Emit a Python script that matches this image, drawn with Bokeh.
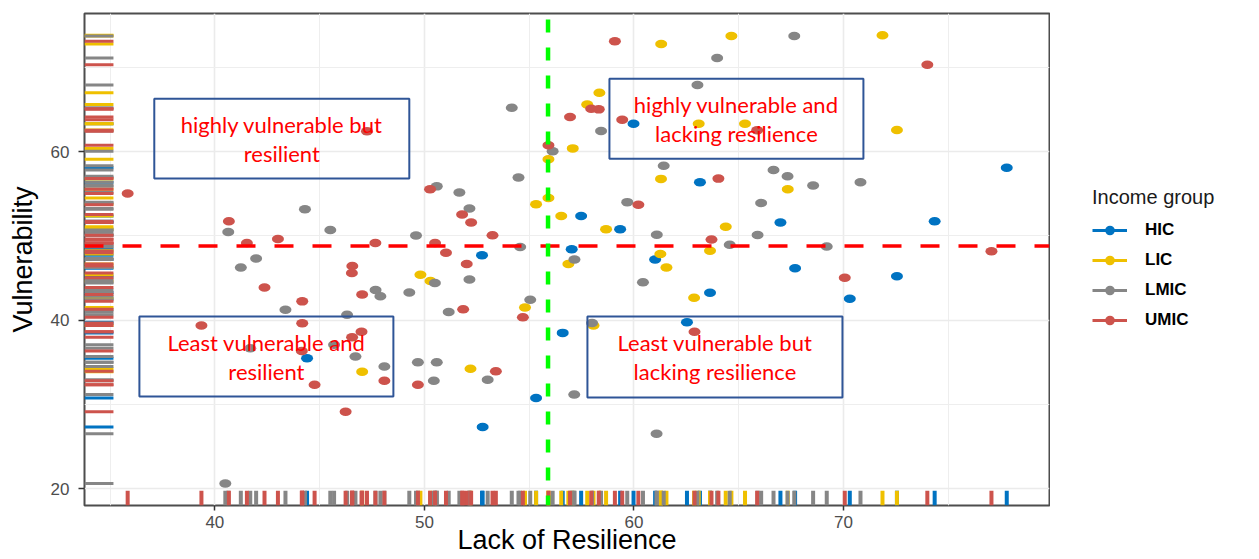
from bokeh.plotting import figure
from bokeh.layouts import row
from bokeh.models import (ColumnDataSource, Range1d, FixedTicker, Span, BoxAnnotation,
                          Label, Legend, LegendItem)
from bokeh.embed import file_html
from bokeh.resources import INLINE

# ---------------- data ----------------
groups = ["HIC", "LIC", "LMIC", "UMIC"]

hic_resilience = [44.40, 52.75, 52.78, 55.33, 56.60, 57.03, 57.48, 59.34, 59.98, 61.01,
                  62.53, 63.15, 63.63, 66.99, 67.69, 70.30, 72.55, 74.35, 77.79]
hic_vulnerability = [35.48, 47.70, 27.32, 30.76, 38.49, 48.41, 52.37, 50.78, 63.32, 47.19,
                     39.75, 56.36, 43.24, 51.58, 46.16, 42.53, 45.20, 51.73, 58.10]

lic_resilience = [47.03, 49.81, 50.29, 52.20, 54.80, 55.33, 55.92, 55.92, 56.53, 56.87,
                  57.08, 57.77, 58.35, 58.07, 58.67, 61.30, 61.29, 61.26, 61.55, 62.87,
                  63.09, 63.63, 64.38, 64.65, 65.30, 67.34, 71.86, 72.55]
lic_vulnerability = [33.87, 45.39, 44.64, 34.22, 41.49, 53.75, 54.51, 59.09, 52.37, 46.68,
                     60.39, 65.61, 67.00, 39.36, 50.78, 72.79, 56.77, 47.84, 46.24, 42.65,
                     63.30, 48.23, 51.10, 73.74, 63.30, 55.55, 73.82, 62.57]

lmic_resilience = [40.50, 40.64, 41.24, 41.97, 41.69, 43.37, 44.30, 45.51, 46.31, 45.69,
                   46.71, 47.67, 47.90, 48.09, 49.28, 49.60, 49.69, 50.59, 50.45, 50.50,
                   50.59, 51.67, 52.15, 52.15, 51.16, 53.02, 54.17, 54.49, 54.57, 55.05,
                   56.12, 57.16, 57.15, 58.00, 58.43, 59.68, 60.43, 61.09, 61.08, 61.42,
                   63.03, 63.97, 64.57, 65.90, 66.07, 66.66, 67.33, 67.65, 68.55, 69.20,
                   70.81]
lmic_vulnerability = [20.62, 50.47, 46.26, 47.31, 36.67, 41.23, 53.16, 50.69, 40.64, 37.08,
                      35.68, 43.57, 42.84, 34.50, 43.27, 50.04, 35.01, 35.01, 32.81, 44.40,
                      55.88, 55.14, 53.24, 44.82, 40.98, 32.92, 65.22, 56.92, 48.67, 42.42,
                      60.04, 47.21, 31.17, 39.66, 62.46, 54.01, 44.50, 50.15, 26.51, 58.34,
                      67.92, 71.13, 48.94, 50.10, 53.91, 57.83, 57.07, 73.72, 55.97, 48.75,
                      56.36]

umic_resilience = [35.84, 39.36, 40.67, 41.53, 42.37, 43.01, 44.17, 44.17, 44.15, 44.76,
                   46.24, 46.56, 46.54, 47.03, 47.00, 46.55, 47.26, 47.66, 48.09, 49.69,
                   50.27, 50.51, 51.03, 51.80, 52.23, 52.02, 51.85, 53.25, 53.41, 54.70,
                   55.92, 56.95, 57.96, 58.32, 59.09, 59.44, 60.21, 62.89, 63.70, 64.03,
                   65.88, 70.06, 74.00, 77.06]
umic_vulnerability = [55.02, 39.36, 51.73, 49.17, 43.89, 49.64, 42.23, 39.62, 36.33, 32.33,
                      29.12, 46.44, 45.61, 43.04, 38.62, 37.97, 62.41, 49.15, 32.81, 32.33,
                      55.53, 49.17, 48.00, 52.53, 51.58, 46.68, 41.29, 50.07, 33.94, 40.34,
                      60.75, 64.12, 65.10, 65.02, 73.11, 63.80, 53.69, 38.61, 49.58, 56.80,
                      62.53, 45.02, 70.32, 48.17]

x_ticks = [40, 50, 60, 70]
x_minor_ticks = [35, 45, 55, 65, 75]
y_ticks = [20, 40, 60]
y_minor_ticks = [30, 50, 70]

resilience_cut = 55.9
vulnerability_cut = 48.8

quadrant_text = [
    ["highly vulnerable but", "resilient"],
    ["highly vulnerable and", "lacking resilience"],
    ["Least vulnerable and", "resilient"],
    ["Least vulnerable but", "lacking resilience"],
]

series = {
    "HIC": (hic_resilience, hic_vulnerability),
    "LIC": (lic_resilience, lic_vulnerability),
    "LMIC": (lmic_resilience, lmic_vulnerability),
    "UMIC": (umic_resilience, umic_vulnerability),
}

# ---------------- styling ----------------
palette = {"HIC": "#0073C2", "LIC": "#EFC000", "LMIC": "#868686", "UMIC": "#CD534C"}
x_lo, x_hi = 33.78, 79.83
y_lo, y_hi = 18.0, 76.4
rug_frac = 0.03

p = figure(width=1050, height=559,
           x_range=Range1d(x_lo, x_hi), y_range=Range1d(y_lo, y_hi),
           output_backend="svg", toolbar_location=None,
           min_border_left=84, min_border_right=1, min_border_top=13, min_border_bottom=54,
           background_fill_color="white", border_fill_color="white")

p.outline_line_color = "#4D4D4D"
p.outline_line_width = 2

p.xaxis.ticker = FixedTicker(ticks=x_ticks, minor_ticks=x_minor_ticks)
p.yaxis.ticker = FixedTicker(ticks=y_ticks, minor_ticks=y_minor_ticks)

for g in (p.xgrid, p.ygrid):
    g.grid_line_color = "#EBEBEB"
    g.grid_line_width = 1.6
    g.minor_grid_line_color = "#EEEEEE"
    g.minor_grid_line_width = 1.0

for ax in (p.xaxis, p.yaxis):
    ax.axis_line_color = None
    ax.major_tick_line_color = "#333333"
    ax.major_tick_line_width = 1.5
    ax.major_tick_in = 0
    ax.minor_tick_line_color = None
    ax.major_label_text_color = "#4D4D4D"
    ax.major_label_text_font = "Liberation Sans"
    ax.major_label_text_font_size = "17px"
    ax.axis_label_text_font = "Liberation Sans"
    ax.axis_label_text_font_style = "normal"
    ax.axis_label_text_color = "black"
    ax.axis_label_text_font_size = "27px"

p.xaxis.axis_label = "Lack of Resilience"
p.xaxis.major_tick_out = 5
p.xaxis.major_label_standoff = 5
p.xaxis.axis_label_standoff = -6

p.yaxis.axis_label = "Vulnerability"
p.yaxis.major_tick_out = 6
p.yaxis.major_label_standoff = 9
p.yaxis.axis_label_standoff = 10

# rugs
x_rug_end = x_lo + rug_frac * (x_hi - x_lo)
y_rug_end = y_lo + rug_frac * (y_hi - y_lo)
for g in groups:
    xs, ys = series[g]
    src_left = ColumnDataSource(dict(x0=[x_lo] * len(ys), x1=[x_rug_end] * len(ys), y=ys))
    p.segment(x0="x0", x1="x1", y0="y", y1="y", source=src_left,
              line_color=palette[g], line_width=3)
    src_bot = ColumnDataSource(dict(x=xs, y0=[y_lo] * len(xs), y1=[y_rug_end] * len(xs)))
    p.segment(x0="x", x1="x", y0="y0", y1="y1", source=src_bot,
              line_color=palette[g], line_width=4)

# points
for g in groups:
    xs, ys = series[g]
    src = ColumnDataSource(dict(x=xs, y=ys))
    p.ellipse(x="x", y="y", width=12, height=8.5, width_units="screen", height_units="screen",
              source=src, fill_color=palette[g], line_color=None)

# reference lines
p.add_layout(Span(location=vulnerability_cut, dimension="width", line_color="#FF0000",
                  line_width=3.5, line_dash="19 19"))
p.add_layout(Span(location=resilience_cut, dimension="height", line_color="#00FF00",
                  line_width=4.5, line_dash="13 15", line_dash_offset=22))

# quadrant boxes (left, right, top, bottom in data units)
boxes = [
    (37.11, 49.28, 66.29, 56.80),
    (58.83, 70.95, 68.66, 59.17),
    (36.40, 48.52, 40.43, 30.94),
    (57.78, 69.95, 40.43, 30.82),
]
for (l, r, t, b), lines in zip(boxes, quadrant_text):
    p.add_layout(BoxAnnotation(left=l, right=r, top=t, bottom=b, fill_color=None,
                               fill_alpha=0, line_color="#2F5597", line_alpha=1.0,
                               line_width=2))
    cx = (l + r) / 2
    cy = (t + b) / 2
    dy = 1.72
    for txt, yy in zip(lines, (cy + dy, cy - dy)):
        p.add_layout(Label(x=cx, y=yy, text=txt, text_align="center", text_baseline="middle",
                           text_color="#FF0000", text_font="Lato", text_font_size="22px"))

# ---------------- legend panel (right of the plot) ----------------
lg = figure(width=209, height=559, x_range=Range1d(0, 1), y_range=Range1d(0, 1),
            output_backend="svg", toolbar_location=None,
            x_axis_location=None, y_axis_location=None,
            min_border_left=0, min_border_right=0, min_border_top=0, min_border_bottom=0,
            outline_line_color=None, background_fill_color="white",
            border_fill_color="white")
lg.xgrid.visible = False
lg.ygrid.visible = False

nan = float("nan")
items = []
for g in groups:
    lr = lg.line(x=[nan, nan], y=[nan, nan], line_color=palette[g], line_width=3)
    sr = lg.scatter(x=[nan], y=[nan], marker="circle", size=10, fill_color=palette[g],
                    line_color=None)
    items.append(LegendItem(label=g, renderers=[lr, sr]))

legend = Legend(items=items, title="Income group", location=(42, 173),
                padding=0, margin=0, spacing=6, glyph_width=35, glyph_height=24,
                label_height=24, label_standoff=18, title_standoff=9,
                border_line_color=None, background_fill_alpha=0,
                title_text_font="Liberation Sans", title_text_font_size="20px",
                title_text_font_style="normal", title_text_color="#1A1A1A",
                label_text_font="Liberation Sans", label_text_font_size="17px",
                label_text_font_style="bold", label_text_color="black")
lg.add_layout(legend, "center")

layout = row(p, lg, spacing=0)
open("out.html", "w").write(file_html(layout, INLINE))
